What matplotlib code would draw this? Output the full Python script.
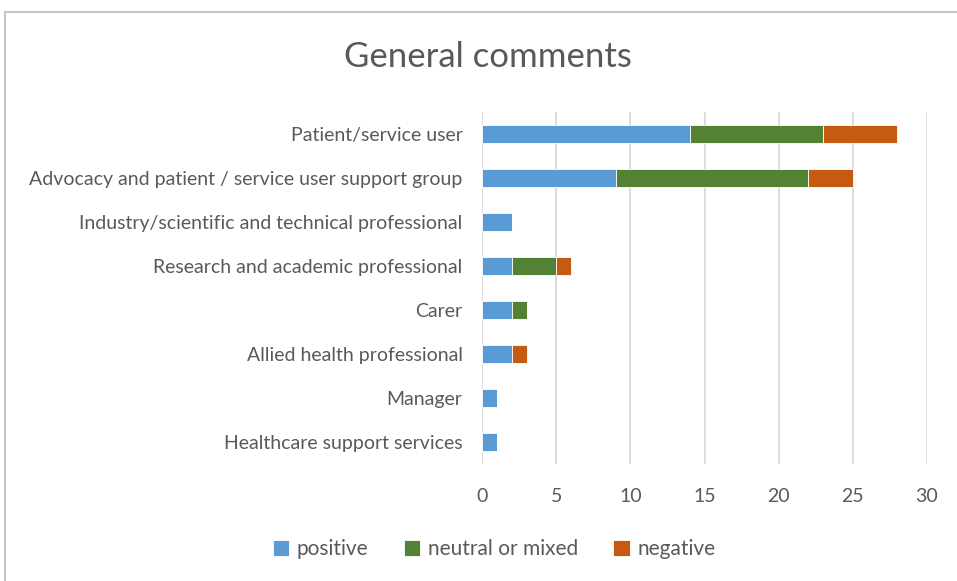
import matplotlib.pyplot as plt
import numpy as np
from matplotlib.patches import Rectangle

# Respondent groups, top to bottom
groups = [
    'Patient/service user',
    'Advocacy and patient / service user support group',
    'Industry/scientific and technical professional',
    'Research and academic professional',
    'Carer',
    'Allied health professional',
    'Manager',
    'Healthcare support services',
]
positive = [14, 9, 2, 2, 2, 2, 1, 1]
neutral = [9, 13, 0, 3, 1, 0, 0, 0]
negative = [5, 3, 0, 1, 0, 1, 0, 0]

series = [('positive', positive, '#5B9BD5'),
          ('neutral or mixed', neutral, '#548235'),
          ('negative', negative, '#C55A11')]

plt.rcParams['font.family'] = ['Lato', 'DejaVu Sans']
text_color = '#595959'

fig = plt.figure(figsize=(9.57, 5.81), dpi=100)
ax = fig.add_axes([482 / 957, 1 - 464 / 581, 445 / 957, 352 / 581])

# Chart-area border
fig.patches.append(Rectangle((5 / 957, -0.1), 1.2, 1 - 12.5 / 581 + 0.1,
                             transform=fig.transFigure, fill=False,
                             edgecolor='#c6c6c6', linewidth=1.5))

y = np.arange(len(groups))
left = np.zeros(len(groups))
for name, vals, color in series:
    vals = np.array(vals, dtype=float)
    ax.barh(y, vals, left=left, height=0.41, color=color, label=name,
            edgecolor='white', linewidth=0.6, zorder=3)
    left += vals

ax.set_ylim(len(groups) - 0.5, -0.5)
ax.set_xlim(0, 30)
ax.set_xticks(range(0, 31, 5))
ax.set_yticks(y)
ax.set_yticklabels(groups)
ax.tick_params(axis='both', length=0, colors=text_color)
ax.tick_params(axis='x', pad=17, labelsize=14)
ax.tick_params(axis='y', pad=14, labelsize=14)
ax.xaxis.grid(True, color='#d9d9d9', linewidth=1.3, zorder=0)
for s in ax.spines.values():
    s.set_visible(False)

fig.text(488 / 957, 1 - 57 / 581, 'General comments', ha='center', va='center',
         fontsize=25, color=text_color)

fig.legend(loc='center', bbox_to_anchor=(494 / 957, 1 - 549 / 581), ncol=3,
           frameon=False, fontsize=15, labelcolor=text_color,
           handlelength=0.8, handleheight=0.8, handletextpad=0.35,
           columnspacing=1.7)

fig.savefig('out.png', dpi=100)
